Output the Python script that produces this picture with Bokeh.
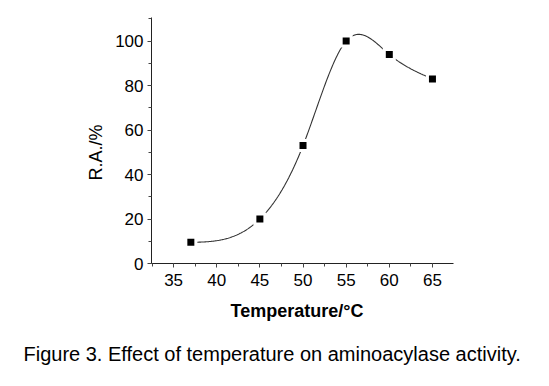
import numpy as np
from bokeh.plotting import figure
from bokeh.models import Range1d, Title, FixedTicker
from bokeh.embed import file_html
from bokeh.resources import INLINE

temperature = [37, 45, 50, 55, 60, 65]
relative_activity = [9.5, 20, 53, 100, 94, 83]
x_ticks = [35, 40, 45, 50, 55, 60, 65]
y_ticks = [0, 20, 40, 60, 80, 100]


def natural_cubic_spline(xs, ys, n=300):
    xs = np.asarray(xs, float)
    ys = np.asarray(ys, float)
    m = len(xs)
    h = np.diff(xs)
    A = np.zeros((m, m))
    b = np.zeros(m)
    A[0, 0] = 1
    A[-1, -1] = 1
    for i in range(1, m - 1):
        A[i, i - 1] = h[i - 1]
        A[i, i] = 2 * (h[i - 1] + h[i])
        A[i, i + 1] = h[i]
        b[i] = 6 * ((ys[i + 1] - ys[i]) / h[i] - (ys[i] - ys[i - 1]) / h[i - 1])
    M = np.linalg.solve(A, b)
    xx = np.linspace(xs[0], xs[-1], n)
    yy = np.empty_like(xx)
    for k, x in enumerate(xx):
        i = min(np.searchsorted(xs, x, side="right") - 1, m - 2)
        t1 = xs[i + 1] - x
        t0 = x - xs[i]
        yy[k] = (M[i] * t1 ** 3 + M[i + 1] * t0 ** 3) / (6 * h[i]) \
            + (ys[i] / h[i] - M[i] * h[i] / 6) * t1 \
            + (ys[i + 1] / h[i] - M[i + 1] * h[i] / 6) * t0
    return xx, yy


W, H = 541, 378
p = figure(width=W, height=H, output_backend="svg", toolbar_location=None,
           x_range=Range1d(32.44, 67.44), y_range=Range1d(0, 110.6),
           min_border_left=151, min_border_right=88, min_border_top=17,
           min_border_bottom=115)
p.outline_line_color = None
p.grid.visible = False
p.background_fill_color = "white"
p.border_fill_color = "white"

sx, sy = natural_cubic_spline(temperature, relative_activity)
p.line(sx, sy, line_color="#333333", line_width=1.1)
p.scatter(temperature, relative_activity, marker="square", size=13,
          fill_color="white", line_color=None)
p.scatter(temperature, relative_activity, marker="square", size=7,
          fill_color="black", line_color=None)

for ax in (p.xaxis[0], p.yaxis[0]):
    ax.axis_line_color = "#222222"
    ax.axis_line_width = 1
    ax.major_tick_line_color = "#444444"
    ax.minor_tick_line_color = "#444444"
    ax.major_tick_out = 4
    ax.major_tick_in = 0
    ax.minor_tick_out = 3
    ax.minor_tick_in = 0
    ax.major_label_text_font = "Liberation Sans"
    ax.major_label_text_font_size = "17px"
    ax.major_label_text_color = "black"
    ax.major_label_standoff = 4

p.xaxis[0].ticker = FixedTicker(ticks=x_ticks,
                                minor_ticks=list(np.arange(32.5, 67.5, 2.5)))
p.yaxis[0].ticker = FixedTicker(ticks=y_ticks,
                                minor_ticks=list(range(0, 111, 10)))
p.xaxis[0].major_label_standoff = 6

p.add_layout(Title(text="R.A./%", align="left", offset=83,
                   text_font="Liberation Sans", text_font_size="18px",
                   text_font_style="normal", text_color="black",
                   standoff=13), "left")
p.add_layout(Title(text="Temperature/°C", align="left", offset=79,
                   text_font="Liberation Sans", text_font_size="18px",
                   text_font_style="bold", text_color="black",
                   standoff=20), "below")
p.add_layout(Title(text="Figure 3. Effect of temperature on aminoacylase activity.",
                   align="left", offset=-128,
                   text_font="Liberation Sans", text_font_size="20px",
                   text_font_style="normal", text_color="black",
                   standoff=21), "below")

open("out.html", "w").write(file_html(p, INLINE))
